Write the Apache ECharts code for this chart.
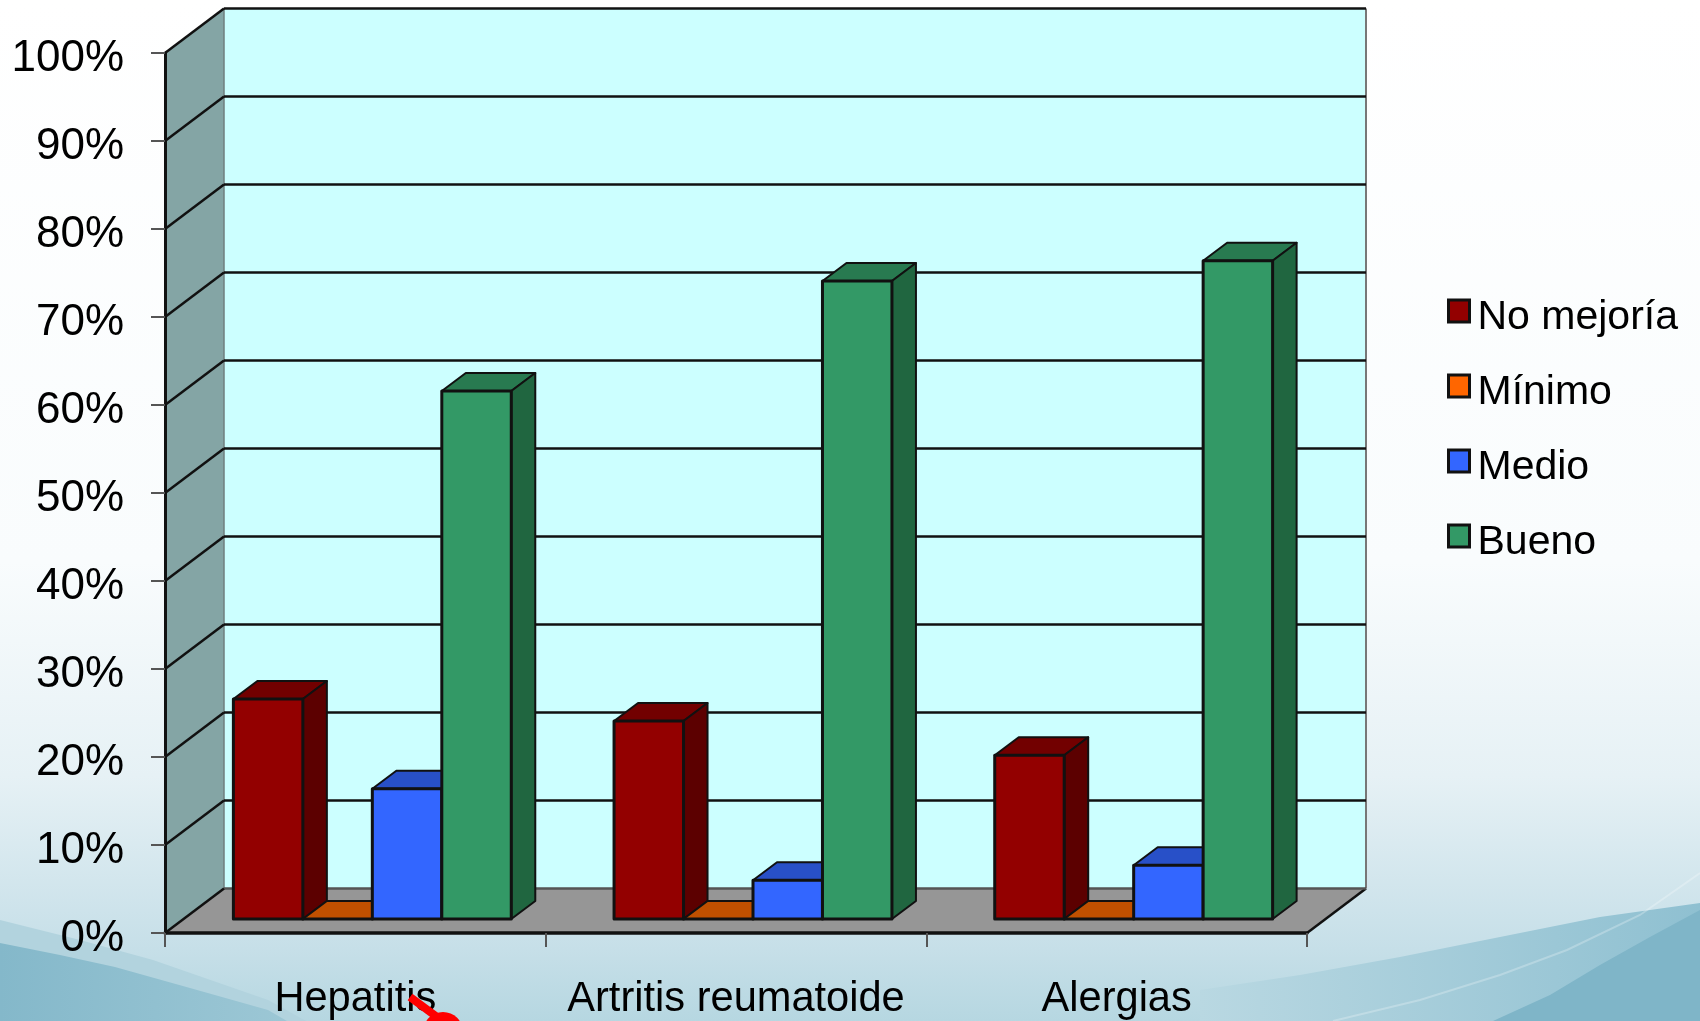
<!DOCTYPE html>
<html>
<head>
<meta charset="utf-8">
<title>Resultados</title>
<script src="https://cdn.jsdelivr.net/npm/echarts@6/dist/echarts.min.js"></script>
<style>
html,body{margin:0;padding:0;}
#chart{width:1700px;height:1021px;}
</style>
</head>
<body>
<div id="chart"></div>
<script>
// datos
const categories = ['Hepatitis', 'Artritis reumatoide', 'Alergias'];
const noMejoria = [25, 22.5, 18.6];
const minimo = [0, 0, 0];
const medio = [14.8, 4.4, 6.1];
const bueno = [60, 72.5, 74.8];
const yTicks = [0, 10, 20, 30, 40, 50, 60, 70, 80, 90, 100];

const FONT = '"Liberation Sans", Arial, sans-serif';
// proyeccion de la caja 3D: profundidad total y profundidad de las barras
const WALL_DX = 59, WALL_DY = 44.5;
const BAR_PLANE_DX = 17, BAR_PLANE_DY = 14;
const BAR_DX = 24, BAR_DY = 18;
const GROUP_WIDTH = 0.73;

function line(x1, y1, x2, y2, color, width) {
    return {type: 'line', shape: {x1, y1, x2, y2}, style: {stroke: color, lineWidth: width}};
}
function poly(points, fill, stroke, width) {
    return {type: 'polygon', shape: {points}, style: {fill, stroke: stroke || 'none', lineWidth: width || 0, lineJoin: 'round'}};
}

// paredes, suelo y rejilla
function renderWalls(params, api) {
    const c = params.coordSys;
    const v = api.value(0);
    const y = api.coord([0, v])[1];
    const x0 = c.x, x1 = c.x + c.width;
    const bx0 = x0 + WALL_DX, bx1 = x1 + WALL_DX;
    const children = [];
    if (v === 0) {
        const top = api.coord([0, 100])[1];
        children.push(poly([[bx0, top - WALL_DY], [bx1, top - WALL_DY], [bx1, y - WALL_DY], [bx0, y - WALL_DY]], '#ccffff'));
        children.push(poly([[x0, top], [bx0, top - WALL_DY], [bx0, y - WALL_DY], [x0, y]], '#84a5a5'));
        children.push(poly([[x0, y], [bx0, y - WALL_DY], [bx1, y - WALL_DY], [x1, y]], '#969696'));
        children.push(line(bx0, top - WALL_DY, bx0, y - WALL_DY, '#6f7f7f', 1.5));
        children.push(line(bx1, top - WALL_DY, bx1, y - WALL_DY, '#777777', 2));
        children.push(line(x1, y, bx1, y - WALL_DY, '#111111', 2.5));
        children.push(line(bx0, y - WALL_DY, bx1, y - WALL_DY, '#555555', 2.5));
        children.push(line(x0, y, bx0, y - WALL_DY, '#111111', 2.5));
    } else {
        children.push(line(x0, y, bx0, y - WALL_DY, '#111111', 2.5));
        children.push(line(bx0, y - WALL_DY, bx1, y - WALL_DY, '#111111', 2.5));
    }
    return {type: 'group', children};
}

// barra 3D a partir de las escalas de los ejes
function makeBarRender(seriesIndex, colors) {
    return function (params, api) {
        const i = api.value(0);
        const band = api.size([1, 0])[0];
        const top = api.coord([i, api.value(1)]);
        const base = api.coord([i, 0]);
        const w = band * GROUP_WIDTH / 4;
        const xl = top[0] - band * GROUP_WIDTH / 2 + w * seriesIndex + BAR_PLANE_DX;
        const xr = xl + w;
        const yt = top[1] - BAR_PLANE_DY;
        const yb = base[1] - BAR_PLANE_DY;
        return {
            type: 'group',
            children: [
                poly([[xl, yt], [xl + BAR_DX, yt - BAR_DY], [xr + BAR_DX, yt - BAR_DY], [xr, yt]], colors.top, '#111111', 2),
                poly([[xr, yt], [xr + BAR_DX, yt - BAR_DY], [xr + BAR_DX, yb - BAR_DY], [xr, yb]], colors.side, '#111111', 2),
                poly([[xl, yt], [xr, yt], [xr, yb], [xl, yb]], colors.front, '#111111', 3)
            ]
        };
    };
}

function barSeries(name, values, seriesIndex, colors) {
    return {
        name,
        type: 'custom',
        z: 3 + seriesIndex,
        silent: true,
        clip: false,
        itemStyle: {color: colors.front},
        encode: {x: 0, y: 1},
        data: values.map((v, i) => [i, v]),
        renderItem: makeBarRender(seriesIndex, colors)
    };
}

function hGrad(x1Color, x2Color) {
    return {type: 'linear', x: 0, y: 0, x2: 1, y2: 0, colorStops: [{offset: 0, color: x1Color}, {offset: 1, color: x2Color}]};
}

const chart = echarts.init(document.getElementById('chart'));
chart.setOption({
    animation: false,
    backgroundColor: {
        type: 'linear', x: 0, y: 0, x2: 0, y2: 1,
        colorStops: [
            {offset: 0, color: '#ffffff'},
            {offset: 0.55, color: '#f9fcfd'},
            {offset: 0.76, color: '#e6f1f5'},
            {offset: 0.93, color: '#c6dfe8'},
            {offset: 1, color: '#b6d7e1'}
        ]
    },
    grid: {left: 165, right: 393, top: 53, bottom: 88},
    xAxis: {
        type: 'category',
        data: categories,
        z: 10,
        axisLine: {lineStyle: {color: '#111111', width: 3.5}},
        axisTick: {show: true, length: 14, lineStyle: {color: '#555555', width: 2}},
        axisLabel: {color: '#000', fontFamily: FONT, fontSize: 41.6, margin: 46, interval: 0}
    },
    yAxis: {
        type: 'value',
        min: 0,
        max: 100,
        interval: 10,
        z: 10,
        splitLine: {show: false},
        axisLine: {show: true, lineStyle: {color: '#111111', width: 3}},
        axisTick: {show: true, length: 14, lineStyle: {color: '#555555', width: 2}},
        axisLabel: {color: '#000', fontFamily: FONT, fontSize: 44, margin: 41, verticalAlign: 'top', lineHeight: 11, formatter: '{value}%'}
    },
    legend: {
        orient: 'vertical',
        left: 1447,
        top: 283.5,
        padding: 0,
        icon: 'rect',
        itemWidth: 21,
        itemHeight: 22,
        itemGap: 20,
        data: ['No mejoría', 'Mínimo', 'Medio', 'Bueno'],
        itemStyle: {borderColor: '#111111', borderWidth: 3},
        formatter: '{t|{name}}',
        textStyle: {
            rich: {
                t: {color: '#000', fontFamily: FONT, fontSize: 41, lineHeight: 41, padding: [14, 0, 0, 3]}
            }
        }
    },
    graphic: [
        // fondo: curvas de la plantilla
        {type: 'polygon', z: -2, silent: true, shape: {points: [[0, 920], [80, 940], [153, 960], [268, 1000], [306, 1021], [0, 1021]]}, style: {fill: '#b2d3de'}},
        {type: 'polygon', z: -2, silent: true, shape: {points: [[0, 943], [60, 955], [115, 967], [190, 988], [268, 1010], [287, 1021], [0, 1021]]}, style: {fill: hGrad('#84b8ca', '#9cc7d5')}},
        {type: 'polygon', z: -2, silent: true, shape: {points: [[1200, 990], [1300, 975], [1400, 957], [1500, 937], [1600, 917], [1700, 903], [1700, 1021], [1200, 1021]]}, style: {fill: hGrad('#b9d8e2', '#8fc0d1')}},
        {type: 'polygon', z: -2, silent: true, shape: {points: [[1493, 1021], [1550, 995], [1600, 965], [1650, 937], [1700, 910], [1700, 1021]]}, style: {fill: '#7fb5c8'}},
        {type: 'polyline', z: -2, silent: true, shape: {points: [[1333, 1021], [1420, 1000], [1500, 975], [1567, 950], [1640, 915], [1700, 873]]}, style: {stroke: 'rgba(255,255,255,0.25)', lineWidth: 2, fill: 'none'}},
        // flecha roja cortada por el borde
        {type: 'line', z: 20, silent: true, shape: {x1: 410, y1: 997, x2: 437, y2: 1017}, style: {stroke: '#ff0000', lineWidth: 8}},
        {type: 'circle', z: 20, silent: true, shape: {cx: 443, cy: 1032, r: 20}, style: {fill: '#ff0000'}}
    ],
    series: [
        {
            type: 'custom',
            z: 1,
            silent: true,
            clip: false,
            encode: {y: 0},
            data: yTicks.map(v => [v]),
            renderItem: renderWalls
        },
        barSeries('No mejoría', noMejoria, 0, {front: '#930000', top: '#720000', side: '#5c0000'}),
        barSeries('Mínimo', minimo, 1, {front: '#ff6600', top: '#c05000', side: '#a04000'}),
        barSeries('Medio', medio, 2, {front: '#3366ff', top: '#2850c8', side: '#2040a0'}),
        barSeries('Bueno', bueno, 3, {front: '#339966', top: '#287a50', side: '#206640'})
    ]
});
</script>
</body>
</html>
